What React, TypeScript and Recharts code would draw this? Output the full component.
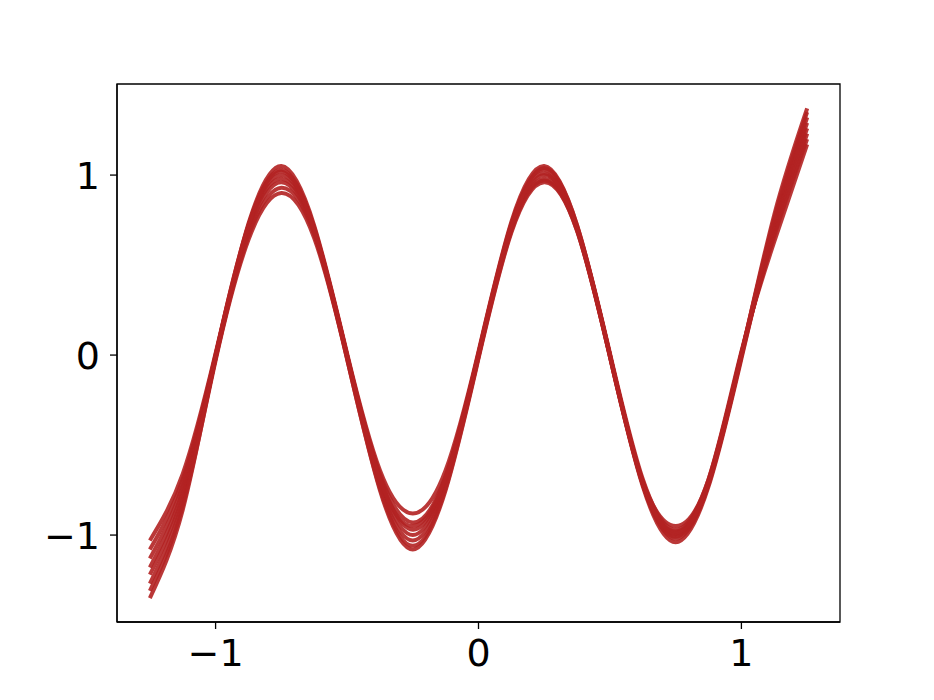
import { LineChart, Line, XAxis, YAxis, ReferenceArea } from 'recharts';

const XS = [-1.25, -1.125, -1, -0.875, -0.75, -0.625, -0.5, -0.375, -0.25, -0.125, 0, 0.125, 0.25, 0.375, 0.5, 0.625, 0.75, 0.875, 1, 1.125, 1.25];

const C1 = [-1.03, -0.66, 0.01, 0.73, 1.05, 0.72, 0.01, -0.64, -0.88, -0.64, 0.02, 0.74, 1.05, 0.72, 0.0, -0.7, -0.95, -0.69, 0.02, 0.63, 1.17];
const C2 = [-1.08, -0.69, 0.0, 0.72, 1.03, 0.71, 0.0, -0.66, -0.93, -0.67, 0.01, 0.73, 1.03, 0.71, 0.0, -0.71, -0.98, -0.7, 0.01, 0.66, 1.2];
const C3 = [-1.13, -0.72, 0.0, 0.71, 1.0, 0.7, 0.0, -0.68, -0.97, -0.69, 0.0, 0.71, 1.0, 0.71, 0.0, -0.71, -1.0, -0.71, 0.0, 0.68, 1.23];
const C4 = [-1.18, -0.75, -0.01, 0.7, 0.98, 0.69, -0.01, -0.7, -1.0, -0.7, 0.0, 0.7, 0.98, 0.7, -0.01, -0.72, -1.02, -0.72, -0.01, 0.7, 1.26];
const C5 = [-1.22, -0.78, -0.02, 0.68, 0.96, 0.68, -0.01, -0.72, -1.03, -0.72, -0.01, 0.69, 0.97, 0.69, -0.01, -0.73, -1.04, -0.73, -0.02, 0.72, 1.29];
const C6 = [-1.27, -0.81, -0.02, 0.66, 0.93, 0.67, -0.02, -0.74, -1.06, -0.74, -0.01, 0.72, 1.04, 0.72, 0.01, -0.69, -0.97, -0.69, 0.01, 0.74, 1.32];
const C7 = [-1.31, -0.84, -0.03, 0.64, 0.9, 0.65, -0.02, -0.75, -1.08, -0.75, -0.02, 0.68, 0.96, 0.69, -0.01, -0.72, -1.01, -0.71, 0.0, 0.76, 1.35];
const C8 = [-1.35, -0.86, -0.01, 0.72, 1.02, 0.7, 0.0, -0.69, -0.95, -0.68, 0.01, 0.72, 1.01, 0.7, 0.0, -0.71, -0.99, -0.71, 0.0, 0.78, 1.37];

const CURVES = [C1, C2, C3, C4, C5, C6, C7, C8];
const X_TICKS = [-1, 0, 1];
const Y_TICKS = [-1, 0, 1];
const X_DOMAIN = [-1.375, 1.375];
const Y_DOMAIN = [-1.483, 1.506];

const data = XS.map((x, i) => {
  const row: Record<string, number> = { x };
  CURVES.forEach((c, k) => {
    row['c' + k] = c[i];
  });
  return row;
});

const fmt = (v: number) => (v < 0 ? '\u2212' + Math.abs(v) : String(v));
const tickStyle = { fill: '#000', fontSize: 38, fontFamily: 'DejaVu Sans' };

export default function App() {
  return (
    <div style={{ position: 'absolute', left: 0, top: 0, background: '#fff' }}>
      <LineChart width={934} height={700} data={data} margin={{ top: 84, right: 94, left: 37, bottom: 18 }}>
        <XAxis
          dataKey="x"
          type="number"
          domain={X_DOMAIN}
          ticks={X_TICKS}
          tickFormatter={fmt}
          allowDataOverflow
          height={60}
          tick={tickStyle}
          tickSize={7}
          tickMargin={10}
          axisLine={{ stroke: '#000', strokeWidth: 1.3 }}
          tickLine={{ stroke: '#000', strokeWidth: 1.3 }}
        />
        <YAxis
          type="number"
          domain={Y_DOMAIN}
          ticks={Y_TICKS}
          tickFormatter={fmt}
          allowDataOverflow
          width={80}
          tick={tickStyle}
          tickSize={7}
          tickMargin={10}
          axisLine={{ stroke: '#000', strokeWidth: 1.3 }}
          tickLine={{ stroke: '#000', strokeWidth: 1.3 }}
        />
        <ReferenceArea
          x1={X_DOMAIN[0]}
          x2={X_DOMAIN[1]}
          y1={Y_DOMAIN[0]}
          y2={Y_DOMAIN[1]}
          fill="none"
          stroke="#000"
          strokeWidth={1.3}
          ifOverflow="visible"
        />
        {CURVES.map((_, k) => (
          <Line
            key={k}
            dataKey={'c' + k}
            type="natural"
            stroke="#b22222"
            strokeWidth={4}
            strokeOpacity={0.9}
            dot={false}
            activeDot={false}
            isAnimationActive={false}
          />
        ))}
      </LineChart>
    </div>
  );
}
